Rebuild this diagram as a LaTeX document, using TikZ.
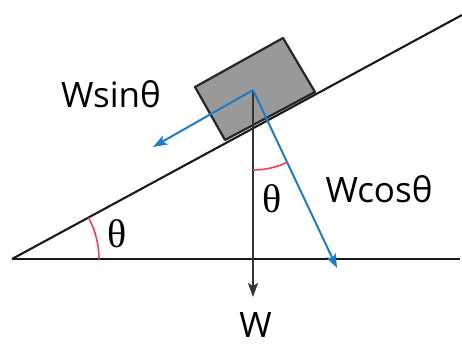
\documentclass[tikz,border=0pt]{standalone}
\usepackage{fontspec}
\setmainfont{Open Sans}
\newfontfamily\thetafont{Liberation Serif}
\usetikzlibrary{arrows.meta}
\definecolor{vecblue}{RGB}{30,124,196}
\definecolor{arcred}{RGB}{237,64,80}
\definecolor{blockgray}{RGB}{153,153,153}
\tikzset{
  ground/.style={line width=2.1pt,black!90},
  blockbox/.style={line width=2.2pt,draw=black!85,fill=blockgray,line join=round},
  vecarrow/.style={line width=2pt,vecblue,-{Stealth[length=14pt,width=10pt,inset=3pt]}},
  weightarrow/.style={line width=1.8pt,black!80,-{Stealth[length=14pt,width=10pt,inset=3pt]}},
  anglearc/.style={line width=1.6pt,arcred},
  lbl/.style={inner sep=0pt,font=\fontsize{35}{40}\selectfont},
  thetalbl/.style={inner sep=0pt,font=\thetafont\fontsize{40}{44}\selectfont}
}
\begin{document}
\begin{tikzpicture}[x=1pt,y=-1pt]
\useasboundingbox (0,0) rectangle (462,345);
% coordinates
\coordinate (V) at (12,259);
\coordinate (Hend) at (460,259);
\coordinate (Iend) at (462,15);
\coordinate (O) at (253,90);
\coordinate (Wtip) at (253,297);
\coordinate (Ctip) at (337,268);
\coordinate (Stip) at (153,147);
% block
\draw[blockbox] (195,87) -- (283,38) -- (315,92) -- (225,140) -- cycle;
% ground
\draw[ground] (V) -- (Hend);
\draw[ground] (V) -- (Iend);
% weight
\draw[weightarrow] (O) -- (Wtip);
% components
\draw[vecarrow] (O) -- (Ctip);
\draw[vecarrow] (O) -- (Stip);
% arcs
\draw[anglearc] (V) ++(0:87) arc[start angle=0,end angle=-28.46,radius=87];
\draw[anglearc] (O) ++(90:80) arc[start angle=90,end angle=64.7,radius=80];
% labels
\node[lbl] (lsin) at (111,94.5) {Wsinθ};
\node[lbl] (lcos) at (379,189.5) {Wcosθ};
\node[lbl] (lw) at (255.5,325) {W};
\node[thetalbl] (t1) at (117.5,233.5) {θ};
\node[thetalbl] (t2) at (272.5,199) {θ};
\end{tikzpicture}
\end{document}
